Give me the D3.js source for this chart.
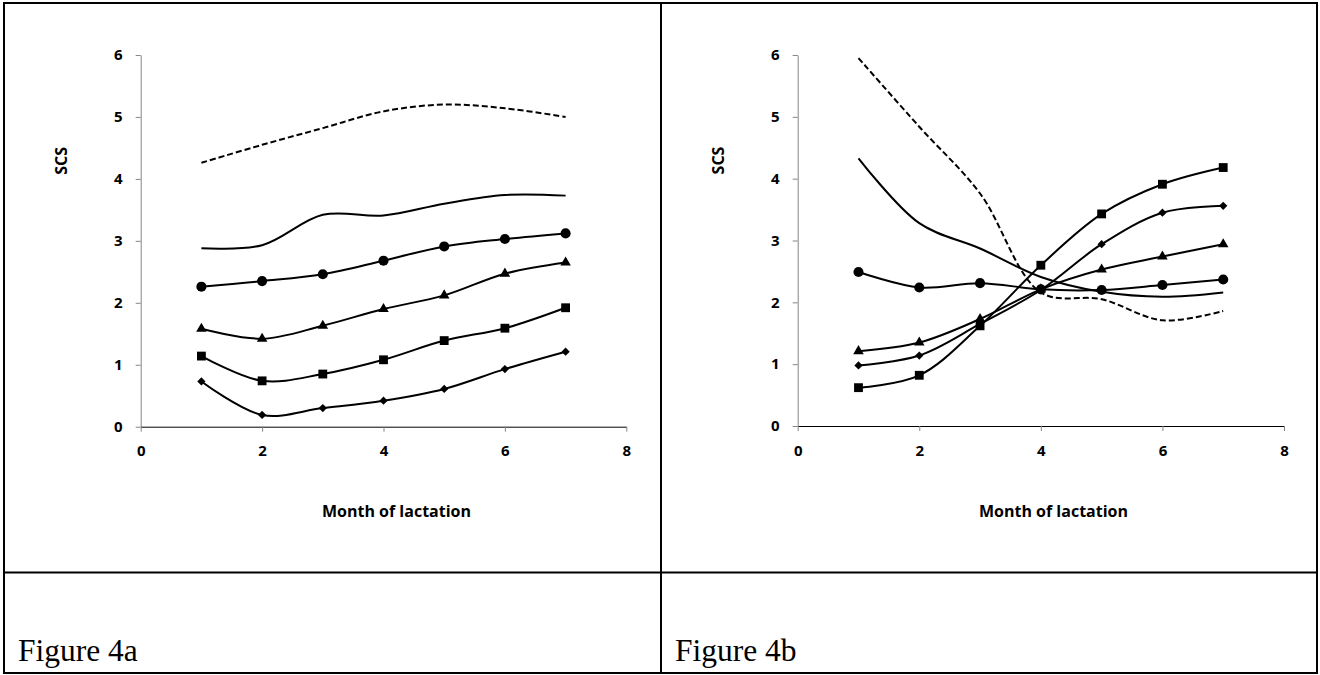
<!DOCTYPE html>
<html>
<head>
<meta charset="utf-8">
<script src="https://cdn.jsdelivr.net/npm/d3@7"></script>
<style>
  body { margin: 0; background: #fff; }
  .tick text { font-family: "Open Sans", sans-serif; font-weight: 700; font-size: 15px; fill: #000; }
  .axis-label { font-family: "Open Sans", sans-serif; font-weight: 700; font-size: 16px; fill: #000; }
  .caption { font-family: "Liberation Serif", "Times New Roman", serif; font-size: 31.5px; fill: #000; }
</style>
</head>
<body>
<div class="svg-container"></div>
<script>
// months on the x axis
var months = [1, 2, 3, 4, 5, 6, 7];
var xTicks = [0, 2, 4, 6, 8];
var yTicks = [0, 1, 2, 3, 4, 5, 6];

// Figure 4a
var aDashed   = [4.26, 4.55, 4.82, 5.09, 5.20, 5.14, 5.00];
var aSolid    = [2.88, 2.93, 3.42, 3.41, 3.60, 3.74, 3.73];
var aCircle   = [2.26, 2.35, 2.46, 2.68, 2.91, 3.03, 3.12];
var aTriangle = [1.58, 1.42, 1.63, 1.90, 2.12, 2.47, 2.65];
var aSquare   = [1.14, 0.74, 0.85, 1.08, 1.39, 1.59, 1.92];
var aDiamond  = [0.73, 0.19, 0.30, 0.42, 0.61, 0.93, 1.21];

// Figure 4b
var bDashed   = [5.95, 4.84, 3.76, 2.16, 2.05, 1.71, 1.86];
var bSolid    = [4.33, 3.28, 2.87, 2.41, 2.17, 2.09, 2.16];
var bCircle   = [2.49, 2.24, 2.31, 2.21, 2.20, 2.28, 2.37];
var bTriangle = [1.21, 1.35, 1.73, 2.21, 2.53, 2.74, 2.94];
var bDiamond  = [0.98, 1.14, 1.65, 2.20, 2.94, 3.45, 3.56];
var bSquare   = [0.62, 0.82, 1.62, 2.60, 3.43, 3.91, 4.18];

var width = 1320, height = 675;

var svg = d3.select(".svg-container")
    .append("svg")
    .attr("width", width)
    .attr("height", height)
    .style("display", "block");

svg.append("rect").attr("width", width).attr("height", height).attr("fill", "#fff");

// table borders
var borders = [
    [3, 3, 1318, 3],
    [3, 673, 1318, 673],
    [4, 3, 4, 673],
    [1317, 3, 1317, 673],
    [661, 3, 661, 673],
    [3, 572.5, 1318, 572.5]
];
svg.selectAll(".border").data(borders).enter().append("line")
    .attr("x1", d => d[0]).attr("y1", d => d[1])
    .attr("x2", d => d[2]).attr("y2", d => d[3])
    .attr("stroke", "#000").attr("stroke-width", 2);

var symbols = {
    circle: d3.symbol(d3.symbolCircle, 80)(),
    square: d3.symbol(d3.symbolSquare, 78)(),
    triangle: d3.symbol(d3.symbolTriangle, 48)(),
    diamond: d3.symbol(d3.symbolSquare, 34)()
};

function drawPanel(opts, series) {
    var x = d3.scaleLinear().domain([0, 8]).range([opts.x0, opts.x8]);
    var y = d3.scaleLinear().domain([0, 6]).range([opts.y0, opts.y6]);

    var g = svg.append("g");

    g.append("g")
        .attr("transform", `translate(${opts.x0},0)`)
        .call(d3.axisLeft(y).tickValues(yTicks).tickFormat(d3.format("d")).tickSize(5).tickSizeOuter(0).tickPadding(13))
        .call(a => a.selectAll("path, line").attr("stroke", "#868686"));

    g.append("g")
        .attr("transform", `translate(0,${opts.y0})`)
        .call(d3.axisBottom(x).tickValues(xTicks).tickFormat(d3.format("d")).tickSize(5).tickSizeOuter(0).tickPadding(14))
        .call(a => a.select("path").attr("stroke", "#000"))
        .call(a => a.selectAll("line").attr("stroke", "#868686"));

    g.selectAll(".tick text").attr("font-family", null).attr("font-size", null);

    g.append("text")
        .attr("class", "axis-label")
        .attr("transform", `translate(${opts.x0 - 79},${(opts.y0 + opts.y6) / 2 - 80}) rotate(-90)`)
        .attr("text-anchor", "middle")
        .attr("dy", "0.35em")
        .text("SCS");

    g.append("text")
        .attr("class", "axis-label")
        .attr("x", opts.x0 + 255.8)
        .attr("y", 516.5)
        .attr("text-anchor", "middle")
        .text("Month of lactation");

    var line = d3.line()
        .x((d, i) => x(months[i]))
        .y(d => y(d))
        .curve(d3.curveCatmullRom.alpha(0.5));

    series.forEach(s => {
        g.append("path")
            .datum(s.values)
            .attr("d", line)
            .attr("fill", "none")
            .attr("stroke", "#000")
            .attr("stroke-width", 2)
            .attr("stroke-dasharray", s.dash ? "6,3" : null);

        if (s.marker) {
            g.selectAll(null).data(s.values).enter().append("path")
                .attr("d", symbols[s.marker])
                .attr("transform", (d, i) => `translate(${x(months[i])},${y(d)})` + (s.marker == "diamond" ? " rotate(45)" : ""))
                .attr("fill", "#000");
        }
    });

    g.append("text")
        .attr("class", "caption")
        .attr("x", opts.captionX)
        .attr("y", 661)
        .text(opts.caption);
}

drawPanel({x0: 140.7, x8: 626.3, y0: 426.7, y6: 55, captionX: 18, caption: "Figure 4a"}, [
    {values: aDashed, dash: true},
    {values: aSolid},
    {values: aCircle, marker: "circle"},
    {values: aTriangle, marker: "triangle"},
    {values: aSquare, marker: "square"},
    {values: aDiamond, marker: "diamond"}
]);

drawPanel({x0: 797.7, x8: 1284, y0: 426, y6: 55, captionX: 675, caption: "Figure 4b"}, [
    {values: bDashed, dash: true},
    {values: bSolid},
    {values: bCircle, marker: "circle"},
    {values: bTriangle, marker: "triangle"},
    {values: bDiamond, marker: "diamond"},
    {values: bSquare, marker: "square"}
]);
</script>
</body>
</html>
